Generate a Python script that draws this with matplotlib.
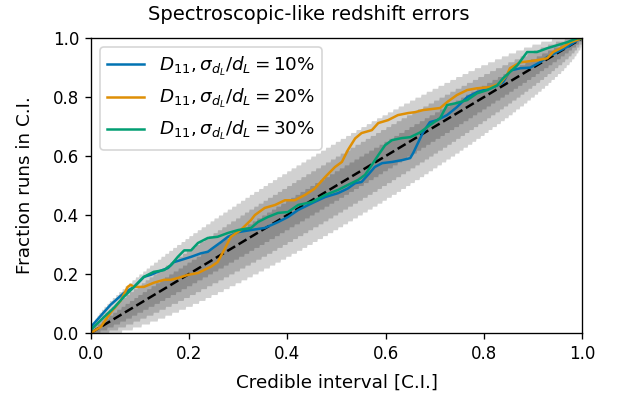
import math
import numpy as np
import matplotlib
matplotlib.use("Agg")
import matplotlib.pyplot as plt

# number of runs behind each P-P curve and the credible bands drawn
n_runs = 100
confidence_levels = [0.68, 0.95, 0.997]

labels = [r"$D_{11}, \sigma_{d_L}/d_L = 10\%$",
          r"$D_{11}, \sigma_{d_L}/d_L = 20\%$",
          r"$D_{11}, \sigma_{d_L}/d_L = 30\%$"]
colors = ["#0173B2", "#DE8F05", "#029E73"]

# P-P curves: credible interval vs fraction of runs inside it
x_10 = [0.0, 0.0, 0.04, 0.067, 0.088, 0.108, 0.122, 0.136, 0.157, 0.169, 0.183,
        0.204, 0.224, 0.238, 0.25, 0.265, 0.279, 0.30, 0.326, 0.354, 0.381,
        0.401, 0.422, 0.45, 0.477, 0.503, 0.523, 0.538, 0.551, 0.564, 0.578,
        0.593, 0.613, 0.633, 0.65, 0.656, 0.676, 0.69, 0.705, 0.725, 0.745,
        0.766, 0.786, 0.813, 0.827, 0.839, 0.853, 0.874, 0.894, 0.914, 0.929,
        0.949, 0.969, 0.99, 1.0]
y_10 = [0.0, 0.02, 0.095, 0.135, 0.156, 0.19, 0.197, 0.207, 0.22, 0.24, 0.247,
        0.258, 0.27, 0.275, 0.29, 0.308, 0.326, 0.342, 0.349, 0.356, 0.376,
        0.393, 0.417, 0.44, 0.461, 0.474, 0.49, 0.508, 0.512, 0.536, 0.563,
        0.576, 0.58, 0.586, 0.593, 0.61, 0.68, 0.715, 0.722, 0.739, 0.766,
        0.80, 0.817, 0.83, 0.84, 0.85, 0.89, 0.898, 0.90, 0.918, 0.936,
        0.953, 0.97, 0.993, 1.0]

x_20 = [0.0, 0.02, 0.04, 0.061, 0.075, 0.081, 0.088, 0.108, 0.128, 0.149, 0.163,
        0.177, 0.198, 0.218, 0.23, 0.244, 0.258, 0.271, 0.285, 0.305, 0.326,
        0.334, 0.354, 0.375, 0.395, 0.415, 0.436, 0.456, 0.477, 0.497, 0.511,
        0.523, 0.538, 0.551, 0.572, 0.585, 0.605, 0.625, 0.646, 0.66, 0.676,
        0.711, 0.725, 0.745, 0.766, 0.786, 0.813, 0.833, 0.847, 0.853, 0.874,
        0.908, 0.929, 0.941, 0.961, 0.976, 1.0]
y_20 = [0.0, 0.02, 0.068, 0.11, 0.156, 0.163, 0.156, 0.156, 0.17, 0.18, 0.18,
        0.186, 0.197, 0.203, 0.213, 0.224, 0.24, 0.28, 0.326, 0.349, 0.383,
        0.40, 0.424, 0.434, 0.45, 0.45, 0.468, 0.49, 0.529, 0.563, 0.58,
        0.62, 0.66, 0.678, 0.688, 0.712, 0.722, 0.739, 0.746, 0.749, 0.756,
        0.763, 0.783, 0.807, 0.824, 0.83, 0.834, 0.847, 0.875, 0.898, 0.918,
        0.925, 0.932, 0.953, 0.97, 0.986, 1.0]

x_30 = [0.0, 0.027, 0.047, 0.067, 0.088, 0.108, 0.128, 0.149, 0.163, 0.177, 0.19,
        0.204, 0.218, 0.238, 0.258, 0.279, 0.30, 0.326, 0.34, 0.36, 0.381,
        0.401, 0.422, 0.45, 0.477, 0.503, 0.523, 0.544, 0.558, 0.572, 0.585,
        0.599, 0.613, 0.633, 0.65, 0.67, 0.69, 0.711, 0.725, 0.745, 0.766,
        0.786, 0.807, 0.827, 0.839, 0.853, 0.868, 0.888, 0.908, 0.929, 0.949,
        0.969, 0.99, 1.0]
y_30 = [0.01, 0.054, 0.085, 0.122, 0.156, 0.19, 0.207, 0.213, 0.23, 0.258, 0.28,
        0.28, 0.305, 0.322, 0.326, 0.339, 0.349, 0.356, 0.376, 0.393, 0.407,
        0.41, 0.434, 0.444, 0.468, 0.485, 0.502, 0.519, 0.536, 0.57, 0.603,
        0.637, 0.654, 0.661, 0.664, 0.68, 0.705, 0.729, 0.773, 0.78, 0.79,
        0.813, 0.824, 0.84, 0.864, 0.885, 0.908, 0.953, 0.953, 0.966, 0.976,
        0.986, 1.0, 1.0]

curves = [(x_10, y_10), (x_20, y_20), (x_30, y_30)]


def binom_ppf(q, n, p):
    # smallest k with CDF(k) >= q for a Binomial(n, p)
    k = np.arange(n + 1)
    logc = np.array([math.lgamma(n + 1) - math.lgamma(i + 1) - math.lgamma(n - i + 1) for i in k])
    out = np.empty_like(p)
    for j, pj in enumerate(p):
        if pj <= 0.0:
            out[j] = 0
            continue
        if pj >= 1.0:
            out[j] = n
            continue
        pmf = np.exp(logc + k * np.log(pj) + (n - k) * np.log1p(-pj))
        cdf = np.cumsum(pmf)
        out[j] = k[np.searchsorted(cdf, q - 1e-12)]
    return out


x_values = np.linspace(0, 1, 1001)

fig = plt.figure(figsize=(5.15, 3.35), dpi=120)
ax = fig.add_axes([0.147, 0.172, 0.795, 0.733])

for ci in confidence_levels:
    edge = (1.0 - ci) / 2.0
    lower = binom_ppf(1 - edge, n_runs, x_values) / n_runs
    upper = binom_ppf(edge, n_runs, x_values) / n_runs
    lower[0] = 0
    upper[0] = 0
    ax.fill_between(x_values, lower, upper, alpha=0.18, color="k", linewidth=0)

ax.plot([0, 1], [0, 1], "k--", lw=1.5)

for (xs, ys), c, lab in zip(curves, colors, labels):
    ax.plot(xs, ys, color=c, lw=1.5, label=lab)

ax.set_xlim(0, 1)
ax.set_ylim(0, 1)
ax.set_xlabel("Credible interval [C.I.]", fontsize=11, labelpad=7)
ax.set_ylabel("Fraction runs in C.I.", fontsize=11, labelpad=11)
fig.suptitle("Spectroscopic-like redshift errors", fontsize=11.7, y=0.988)
ax.legend(loc="upper left", fontsize=11)

fig.savefig("out.png", dpi=120)
